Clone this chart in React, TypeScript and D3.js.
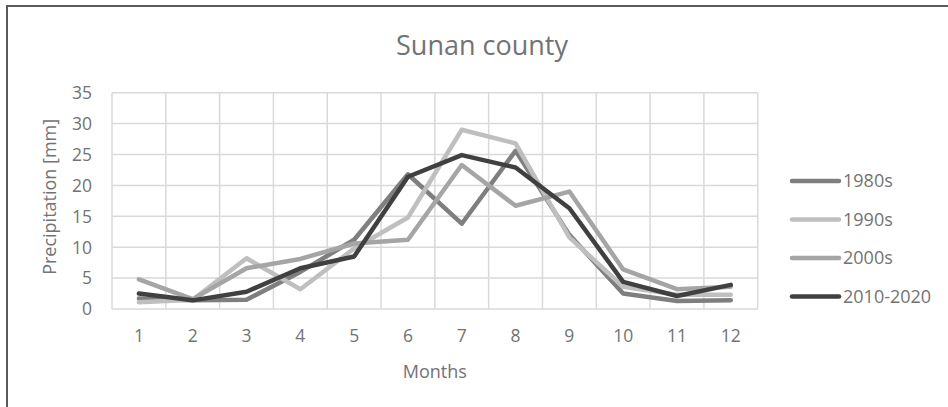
import { useEffect, useRef } from 'react'
import * as d3 from 'd3'

// --- DATA ---
const months = ['1', '2', '3', '4', '5', '6', '7', '8', '9', '10', '11', '12']
const yTicks = [0, 5, 10, 15, 20, 25, 30, 35]

const seriesNames = ['1980s', '1990s', '2000s', '2010-2020']
const seriesColors = ['#7f7f7f', '#bfbfbf', '#a5a5a5', '#404040']

const p1980s = [1.7, 1.4, 1.5, 6.0, 11.2, 21.8, 13.8, 25.6, 12.0, 2.5, 1.3, 1.4]
const p1990s = [1.1, 1.5, 8.2, 3.2, 9.8, 14.8, 29.0, 26.8, 11.6, 3.6, 2.3, 2.3]
const p2000s = [4.8, 1.6, 6.6, 8.1, 10.6, 11.2, 23.3, 16.7, 19.0, 6.4, 3.2, 3.6]
const p2010s = [2.5, 1.4, 2.8, 6.6, 8.5, 21.4, 24.9, 22.9, 16.3, 4.4, 2.1, 3.9]

const seriesValues = [p1980s, p1990s, p2000s, p2010s]

const WIDTH = 948
const HEIGHT = 407
const FONT = '"Open Sans", "Noto Sans", sans-serif'
const TEXT = '#737373'

export default function App() {
  const svgRef = useRef<SVGSVGElement | null>(null)

  useEffect(() => {
    if (!svgRef.current) return
    const svg = d3.select(svgRef.current)
    svg.selectAll('*').remove()

    const left = 112
    const right = 757.7
    const top = 92.7
    const bottom = 309

    const x = d3.scaleBand<string>().domain(months).range([left, right])
    const y = d3.scaleLinear().domain([0, 35]).range([bottom, top])

    // --- OUTER BORDER ---
    svg
      .append('rect')
      .attr('x', 7)
      .attr('y', 6)
      .attr('width', WIDTH + 20)
      .attr('height', HEIGHT + 20)
      .attr('fill', '#fff')
      .attr('stroke', '#5a5a5a')
      .attr('stroke-width', 2)

    // --- TITLE (centred on the whole chart box, which runs past the crop) ---
    svg
      .append('text')
      .attr('x', 482)
      .attr('y', 55)
      .attr('text-anchor', 'middle')
      .attr('font-family', FONT)
      .attr('font-size', 27)
      .attr('fill', TEXT)
      .text('Sunan county')

    // --- GRID ---
    const grid = svg.append('g')
    yTicks.forEach((t) => {
      grid
        .append('line')
        .attr('x1', left)
        .attr('x2', right)
        .attr('y1', y(t))
        .attr('y2', y(t))
        .attr('stroke', '#d9d9d9')
        .attr('stroke-width', 1.5)
    })
    const xEdges = [...months.map((m) => x(m) as number), right]
    xEdges.forEach((xe) => {
      grid
        .append('line')
        .attr('x1', xe)
        .attr('x2', xe)
        .attr('y1', top)
        .attr('y2', bottom)
        .attr('stroke', '#d9d9d9')
        .attr('stroke-width', 1.5)
    })

    // --- AXIS LABELS ---
    svg
      .append('g')
      .selectAll('text')
      .data(yTicks)
      .enter()
      .append('text')
      .attr('x', 92)
      .attr('y', (d) => y(d))
      .attr('dy', '0.36em')
      .attr('text-anchor', 'end')
      .attr('font-family', FONT)
      .attr('font-size', 17.5)
      .attr('fill', TEXT)
      .text((d) => String(d))

    svg
      .append('g')
      .selectAll('text')
      .data(months)
      .enter()
      .append('text')
      .attr('x', (d) => (x(d) as number) + x.bandwidth() / 2)
      .attr('y', 342)
      .attr('text-anchor', 'middle')
      .attr('font-family', FONT)
      .attr('font-size', 17.5)
      .attr('fill', TEXT)
      .text((d) => d)

    svg
      .append('text')
      .attr('x', (left + right) / 2)
      .attr('y', 378)
      .attr('text-anchor', 'middle')
      .attr('font-family', FONT)
      .attr('font-size', 18)
      .attr('fill', TEXT)
      .text('Months')

    svg
      .append('text')
      .attr('transform', `translate(56, ${(top + bottom) / 2 - 4}) rotate(-90)`)
      .attr('text-anchor', 'middle')
      .attr('font-family', FONT)
      .attr('font-size', 18)
      .attr('fill', TEXT)
      .text('Precipitation [mm]')

    // --- LINES ---
    const line = d3
      .line<number>()
      .x((_, i) => (x(months[i]) as number) + x.bandwidth() / 2)
      .y((v) => y(v))

    seriesValues.forEach((vals, i) => {
      svg
        .append('path')
        .datum(vals)
        .attr('fill', 'none')
        .attr('stroke', seriesColors[i])
        .attr('stroke-width', 4.5)
        .attr('stroke-linejoin', 'round')
        .attr('stroke-linecap', 'round')
        .attr('d', line)
    })

    // --- LEGEND ---
    const legendY = d3.scalePoint<string>().domain(seriesNames).range([181, 296.5])
    const legend = svg.append('g')
    seriesNames.forEach((name, i) => {
      const ly = legendY(name) as number
      legend
        .append('line')
        .attr('x1', 792)
        .attr('x2', 839)
        .attr('y1', ly)
        .attr('y2', ly)
        .attr('stroke', seriesColors[i])
        .attr('stroke-width', 4.5)
        .attr('stroke-linecap', 'round')
      legend
        .append('text')
        .attr('x', 843)
        .attr('y', ly)
        .attr('dy', '0.36em')
        .attr('font-family', FONT)
        .attr('font-size', 18)
        .attr('fill', TEXT)
        .text(name)
    })
  }, [])

  return (
    <div style={{ position: 'absolute', left: 0, top: 0, width: WIDTH, height: HEIGHT, overflow: 'hidden' }}>
      <svg ref={svgRef} width={WIDTH} height={HEIGHT} style={{ display: 'block' }} />
    </div>
  )
}
